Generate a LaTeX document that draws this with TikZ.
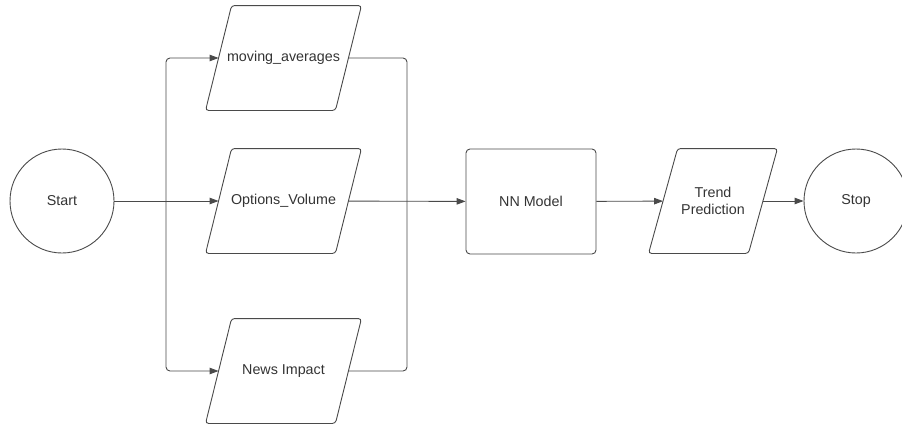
\documentclass[tikz,border=0pt]{standalone}
\usepackage{fontspec}
\setmainfont{Liberation Sans}
\usetikzlibrary{arrows.meta}

\definecolor{linegray}{HTML}{4A4A4A}
\definecolor{textgray}{HTML}{333333}

\begin{document}
\begin{tikzpicture}[x=1pt,y=-1pt,linegray,line width=0.9pt,
  every node/.style={font=\fontsize{14.3}{17}\selectfont,text=textgray},
  term/.style={circle,draw,minimum size=104pt,inner sep=0pt},
  io/.style={rectangle,minimum width=129pt,minimum height=104pt,inner sep=0pt,align=center,
    append after command={\pgfextra{\draw[rounded corners=3pt]
      ([xshift=#1]\tikzlastnode.north west) -- ([xshift=#1]\tikzlastnode.north east)
      -- ([xshift=-#1]\tikzlastnode.south east) -- ([xshift=-#1]\tikzlastnode.south west) -- cycle;}}},
  io/.default=13pt,
  proc/.style={rectangle,draw,rounded corners=4pt,minimum width=130pt,minimum height=105pt},
  flow/.style={-{Triangle[length=9pt,width=6.5pt]}}]

\useasboundingbox (0,0) rectangle (902,424);

\node[term] (start) at (62,201) {Start};

\node[io] (mavg) at (283.5,58) {moving\_averages};
\node[io] (opts) at (283.5,201) {Options\_Volume};
\node[io] (news) at (283.5,371) {News Impact};

\node[proc] (nn) at (531,201.5) {NN Model};
\node[io=14.5pt,minimum width=99pt] (trend) at (713,201) {Trend\\Prediction};
\node[term] (stop) at (856,201) {Stop};

\coordinate (split) at (166,201);
\coordinate (merge) at (407,201);

% inputs
\draw[flow] (start) -- (opts);
\draw[flow,rounded corners=4pt] (split) |- (mavg);
\draw[flow,rounded corners=4pt] (split) |- (news);

% outputs into model
\draw[rounded corners=4pt] (mavg) -| (merge);
\draw[rounded corners=4pt] (news) -| (merge);
\draw[flow] (opts) -- (nn);

\draw[flow] (nn) -- (trend);
\draw[flow] (trend) -- (stop);

\end{tikzpicture}
\end{document}
